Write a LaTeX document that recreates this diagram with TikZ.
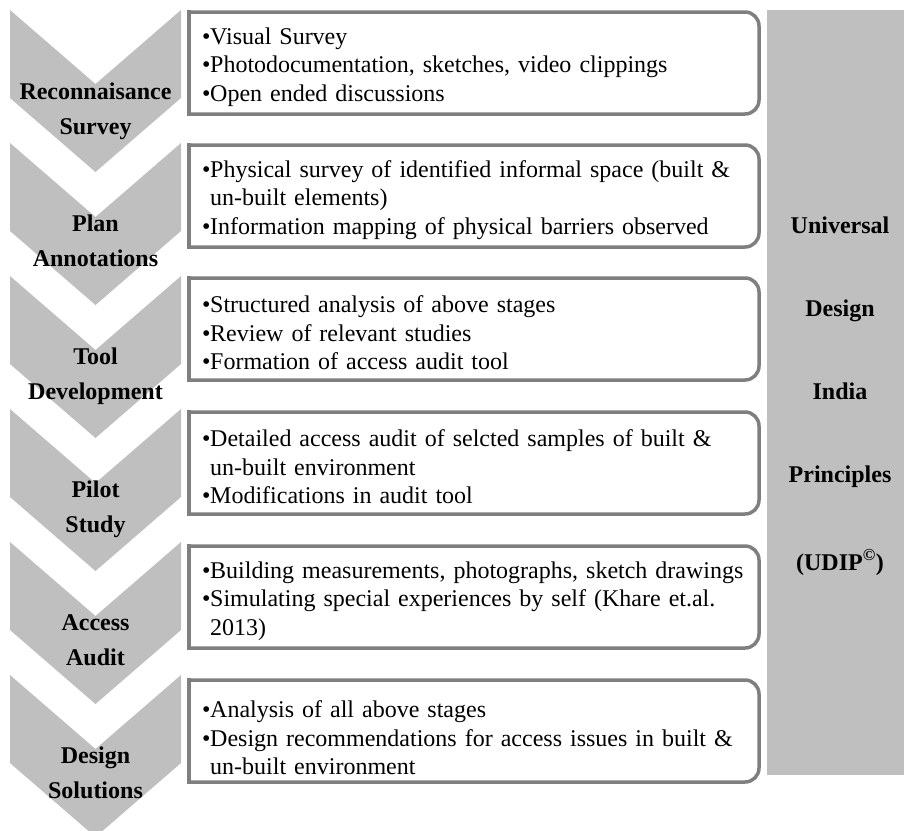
\documentclass[tikz,border=0pt]{standalone}
\usepackage{fontspec}
\setmainfont{Liberation Serif}
\definecolor{chevgray}{HTML}{BFBFBF}
\definecolor{boxline}{HTML}{7F7F7F}
\newcommand{\bitem}[1]{\par\hangindent=8pt\hangafter=1\noindent\makebox[8pt][l]{\textbullet}#1\par}
\newcommand{\brk}{\hfil\break}
\tikzset{
  chev/.style={fill=chevgray},
  chevlabel/.style={font=\fontsize{24}{35}\selectfont\bfseries, align=center, anchor=base, inner sep=0pt},
  boxframe/.style={draw=boxline, line width=3.5pt, fill=white, line cap=rect},
  boxedge/.style={draw=boxline, line width=3.5pt, line cap=rect},
  boxtext/.style={font=\fontsize{24}{28.5}\selectfont, text width=552pt, align=left, inner sep=0pt, anchor=west},
  bartext/.style={font=\fontsize{24}{28}\selectfont\bfseries, anchor=base, inner sep=0pt},
}
\begin{document}
\begin{tikzpicture}[x=1pt,y=-1pt]
\useasboundingbox (0,0) rectangle (904,830);
\clip (0,0) rectangle (904,830);
% chevrons
\foreach \k in {0,...,5}{
  \pgfmathsetmacro\t{10+133*\k}
  \fill[chev] (10,\t) -- (95.5,\t+74) -- (181,\t) -- (181,\t+88) -- (95.5,\t+162) -- (10,\t+88) -- cycle;
}
% labels: base anchor is the baseline of the last line
\node[chevlabel] (c1) at (95.5,134) {Reconnaisance\\Survey};
\node[chevlabel] (c2) at (95.5,266) {Plan\\Annotations};
\node[chevlabel] (c3) at (95.5,399) {Tool\\Development};
\node[chevlabel] (c4) at (95.5,532) {Pilot\\Study};
\node[chevlabel] (c5) at (95.5,665) {Access\\Audit};
\node[chevlabel] (c6) at (95.5,798) {Design\\Solutions};
% right bar
\fill[chevgray] (767,10) rectangle (904,775);
\node[bartext] (u1) at (840,233) {Universal};
\node[bartext] (u2) at (840,316) {Design};
\node[bartext] (u3) at (840,399) {India};
\node[bartext] (u4) at (840,482) {Principles};
\node[bartext] (u5) at (840,570) {(UDIP\textsuperscript{\textcopyright})};
% boxes
\foreach \T in {12,145,278,412,546,680}{
  \draw[boxframe, rounded corners=14pt] (189,\T) -- (759,\T) -- (759,\T+102) -- (189,\T+102);
  \draw[boxedge] (189,\T+102) -- (189,\T);
}
\node[boxtext] (b1) at (202,61) {\bitem{Visual Survey}\bitem{Photodocumentation, sketches, video clippings}\bitem{Open ended discussions}};
\node[boxtext] (b2) at (202,194) {\bitem{Physical survey of identified informal space (built \&\brk un-built elements)}\bitem{Information mapping of physical barriers observed}};
\node[boxtext] (b3) at (202,327) {\bitem{Structured analysis of above stages}\bitem{Review of relevant studies}\bitem{Formation of access audit tool}};
\node[boxtext] (b4) at (202,461) {\bitem{Detailed access audit of selcted samples of built \&\brk un-built environment}\bitem{Modifications in audit tool}};
\node[boxtext] (b5) at (202,595) {\bitem{Building measurements, photographs, sketch drawings}\bitem{Simulating special experiences by self (Khare et.al.\brk 2013)}};
\node[boxtext] (b6) at (202,732) {\bitem{Analysis of all above stages}\bitem{Design recommendations for access issues in built \&\brk un-built environment}};
\end{tikzpicture}
\end{document}
